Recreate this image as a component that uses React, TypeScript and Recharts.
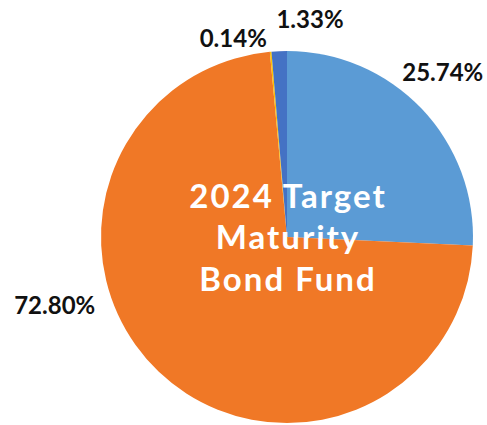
import React from 'react';
import { PieChart, Pie, Cell } from 'recharts';

const names = ['Fixed Income', 'Government Securities', 'Cash', 'Net Current Assets'];
const values = [25.74, 72.8, 0.14, 1.33];
const COLORS = ['#5B9BD5', '#F07826', '#FFC000', '#4472C4'];

// label placement tweaks (angle shift from slice middle, distance outside the rim)
const LABEL_SHIFT = [3, -30, 10, -8.4];
const LABEL_GAP = [41, 56, 21, 34];

const TITLE = ['2024 Target', 'Maturity', 'Bond Fund'];

const data = names.map((name, i) => ({ name, value: values[i] }));

const W = 487;
const H = 425;
const CX = 287;
const CY = 237;
const RADIAN = Math.PI / 180;

const renderLabel = (props: any) => {
  const { cx, cy, midAngle, outerRadius, index, value } = props;
  const a = (midAngle + LABEL_SHIFT[index]) * RADIAN;
  const r = outerRadius + LABEL_GAP[index];
  const x = cx + r * Math.cos(a);
  const y = cy - r * Math.sin(a);
  return (
    <text
      x={x}
      y={y}
      textAnchor="middle"
      dominantBaseline="central"
      fill="#111"
      fontFamily="Lato, sans-serif"
      fontWeight="bold"
      fontSize={24}
    >
      {value.toFixed(2)}%
    </text>
  );
};

export default function App() {
  return (
    <div style={{ position: 'absolute', left: 0, top: 0, width: W, height: H, background: '#fff' }}>
      <PieChart width={W} height={H} margin={{ top: 0, right: 0, bottom: 0, left: 0 }}>
        <Pie
          data={data}
          dataKey="value"
          nameKey="name"
          cx={CX}
          cy={CY}
          outerRadius={186}
          startAngle={90}
          endAngle={-270}
          stroke="none"
          label={renderLabel}
          labelLine={false}
          isAnimationActive={false}
        >
          {data.map((entry, i) => (
            <Cell key={entry.name} fill={COLORS[i]} />
          ))}
        </Pie>
      </PieChart>
      <svg
        width={W}
        height={H}
        style={{ position: 'absolute', left: 0, top: 0, pointerEvents: 'none' }}
      >
        <text
          textAnchor="middle"
          fill="#fff"
          fontFamily="Lato, sans-serif"
          fontWeight="bold"
          fontSize={33}
          letterSpacing={2}
        >
          {TITLE.map((line, i) => (
            <tspan key={line} x={CX + 1} y={CY + (i - 1) * 41.5 + 12}>
              {line}
            </tspan>
          ))}
        </text>
      </svg>
    </div>
  );
}
